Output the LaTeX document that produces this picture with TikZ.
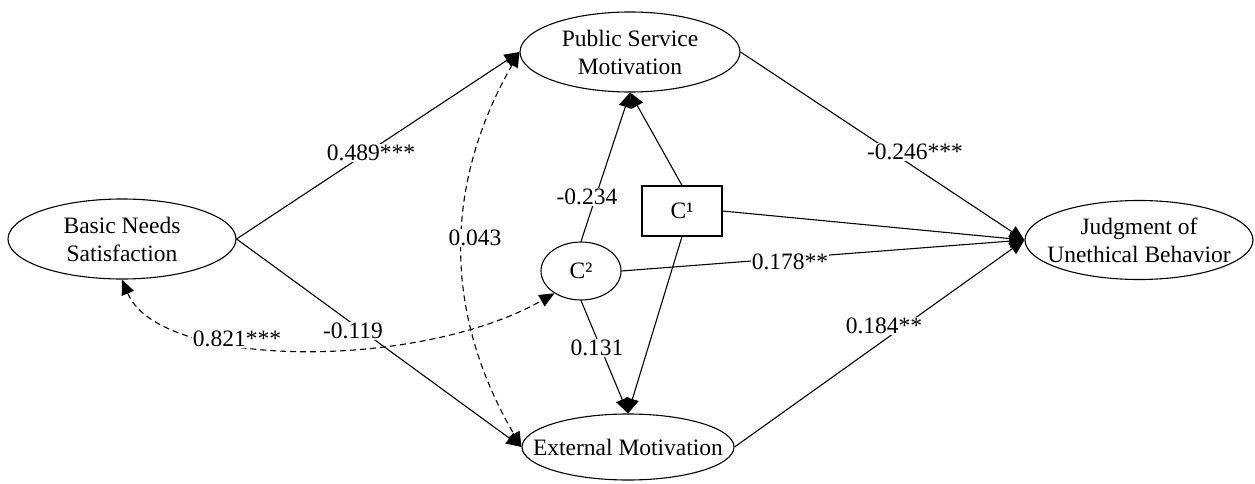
\documentclass[tikz,border=0pt]{standalone}
\usepackage{fontspec}
\setmainfont{Liberation Serif}
\usetikzlibrary{arrows.meta,shapes.geometric}
\begin{document}
\begin{tikzpicture}[x=1pt,y=-1pt,
  every node/.style={font=\fontsize{23.5}{28}\selectfont},
  var/.style={draw,ellipse,line width=1.1pt,inner xsep=-40pt,inner ysep=-8pt,align=center},
  arr/.style={line width=1.1pt,-{Triangle[length=15pt,width=13pt]}},
  covarr/.style={line width=1.1pt,dash pattern=on 6pt off 4pt,{Triangle[length=15pt,width=13pt]}-{Triangle[length=15pt,width=13pt]}},
  lab/.style={fill=white,inner sep=1pt}]
\useasboundingbox (0,0) rectangle (1255,484);
% variables
\node[var,minimum width=228pt,minimum height=80pt] (BNS) at (122,239) {Basic Needs\\Satisfaction};
\node[var,minimum width=220pt,minimum height=80pt] (PSM) at (630,52) {Public Service\\Motivation};
\node[var,minimum width=212pt,minimum height=66pt] (EM) at (628,447) {External Motivation};
\node[var,minimum width=228pt,minimum height=79pt] (JUB) at (1139,240) {Judgment of\\Unethical Behavior};
\node[draw,line width=1.1pt,minimum width=80pt,minimum height=50pt,inner sep=0pt] (C1) at (682,211) {C¹};
\node[var,minimum width=80pt,minimum height=58pt] (C2) at (581,271) {C²};
% paths
\draw[arr] (BNS.east) -- (PSM.west);
\draw[arr] (BNS.east) -- (EM.west);
\draw[arr] (PSM.east) -- (JUB.west);
\draw[arr] (EM.east) -- (JUB.west);
\draw[arr] (C1.east) -- (JUB.west);
\draw[arr] (C2.east) -- (JUB.west);
\draw[arr] (C2.north) -- (PSM.south);
\draw[arr] (C1.north) -- (PSM.south);
\draw[arr] (C2.south) -- (EM.north);
\draw[arr] (C1.south) -- (EM.north);
\draw[covarr] (PSM.west) to[bend right=30] (EM.west);
\draw[covarr] (BNS.south) .. controls (160,370) and (420,370) .. (C2.220);
% labels
\node[lab] (l1) at (371,153) {0.489***};
\node[lab] (l2) at (353,331) {-0.119};
\node[lab] (l3) at (915,152) {-0.246***};
\node[lab] (l4) at (790,262) {0.178**};
\node[lab] (l5) at (587,197) {-0.234};
\node[lab] (l6) at (597,348) {0.131};
\node[lab] (l7) at (884,326) {0.184**};
\node[lab] (l8) at (237,339) {0.821***};
\node[lab] (l9) at (475,238) {0.043};
\end{tikzpicture}
\end{document}
